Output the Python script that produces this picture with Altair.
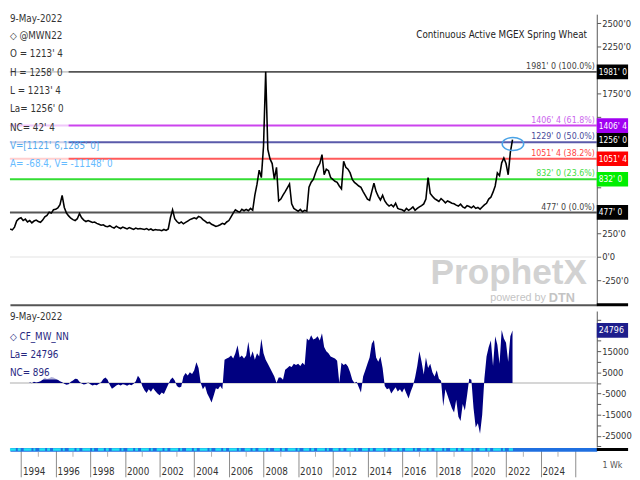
import altair as alt
import pandas as pd

# ---------------- data ----------------
price_start = 1993.375
price_step = 0.125
price_values = [
    300, 290, 320, 385, 410,                      # 1993 (part)
    420, 390, 405, 375, 390, 365, 385, 395,       # 1994
    380, 372, 395, 430, 445, 480, 470, 505,       # 1995
    510, 525, 560, 660, 530, 470, 440, 415,       # 1996
    400, 390, 410, 465, 420, 395, 380, 390,       # 1997
    380, 370, 375, 360, 350, 340, 345, 330,       # 1998
    325, 335, 320, 310, 330, 315, 305, 320,       # 1999
    310, 300, 315, 305, 295, 310, 300, 305,       # 2000
    300, 295, 305, 290, 300, 285, 295, 290,       # 2001
    290, 282, 295, 285, 300, 420, 505, 410,       # 2002
    380, 360, 375, 355, 370, 385, 400, 410,       # 2003
    420, 410, 435, 425, 400, 385, 365, 370,       # 2004
    350, 340, 327, 335, 345, 360, 350, 375,       # 2005
    390, 430, 470, 505, 490, 480, 510, 495,       # 2006
    510, 495, 520, 500, 662, 780, 930, 850,       # 2007
    1185, 1981, 1150, 1050, 1000, 833, 960, 600,  # 2008
    620, 662, 700, 740, 781, 570, 520, 505,       # 2009
    490, 510, 485, 500, 490, 746, 800, 830,       # 2010
    900, 960, 1000, 1095, 880, 940, 924, 850,     # 2011
    830, 810, 800, 760, 730, 1025, 960, 940,      # 2012
    900, 830, 798, 780, 760, 746, 700, 660,       # 2013
    620, 607, 700, 790, 700, 650, 610, 660,       # 2014
    600, 568, 545, 560, 537, 575, 520, 510,       # 2015
    505, 490, 520, 500, 516, 535, 500, 520,       # 2016
    537, 550, 568, 620, 851, 680, 650, 625,       # 2017
    610, 595, 625, 605, 580, 600, 589, 575,       # 2018
    570, 555, 545, 565, 537, 525, 550, 540,       # 2019
    526, 545, 520, 530, 512, 535, 558, 575,       # 2020
    620, 640, 694, 760, 900, 870, 1008, 1060,     # 2021
    1000, 880, 1120, 1256,                        # 2022
]

cot_start = 1994.5
cot_step = 0.125
cot_values = [
    300, -200, 500, 200,                                          # 1994 (part)
    400, 800, 1500, 2500, 1800, 2200, 2800, 2500,                 # 1995
    2000, 1500, 800, 300, -400, -900, -600, 500,                  # 1996
    1200, 2000, 1800, 600, -300, -800, -500, 200,                 # 1997
    -600, -1200, -900, -1100, -400, 300, 1800, 2600,              # 1998
    1500, -1000, -2800, -2000, -1200, -800, -1200, -600,          # 1999
    -900, -1300, -700, -1100, -400, 800, 3400, 2000,              # 2000
    -1500, -3500, -4800, -3000, -4200, -2500, -3800, -5000,       # 2001
    -5800, -4500, -5200, -3000, -800, 1500, 2600, 1200,           # 2002
    -1500, -2200, -1800, 3000, 4700, 3500, 5000, 4200,            # 2003
    6000, 9800, 7000, 0, -3000, -1500, -5000, -7000,              # 2004
    -9300, -6000, -2500, -3000, -1500, -3000, 10900, 11500,       # 2005
    12000, 13000, 11500, 14000, 17800, 12000, 13000, 11500,       # 2006
    13000, 19500, 12000, 15000, 11000, 14000, 12500, 20800,       # 2007
    14000, 11000, 9000, 7000, 5000, 3000, 0, 2500,                # 2008
    2500, 1500, 6200, 7000, 8000, 7500, 9000, 8500,               # 2009
    9000, 8000, 9500, 8500, 21000, 20000, 22500, 20500,           # 2010
    21000, 22000, 20000, 23400, 17000, 15000, 14000, 12500,       # 2011
    12000, 11500, 10500, 0, 9500, 8500, 9000, 7700,               # 2012
    5000, 1500, 0, 500, -2000, -4500, 3000, 6000,                 # 2013
    9000, 12000, 18500, 20300, 12000, 10000, 12500, 7000,         # 2014
    -1500, -3000, -2500, -5000, -3500, -2000, -4000, -3000,       # 2015
    -4500, -2500, -5000, -7400, -4000, -1500, 2500, 8000,         # 2016
    14900, 10000, 4000, 12000, 7000, 9000, 5000, 3000,            # 2017
    6000, 2000, 1000, -11000, -3000, -6000, -9000, -12000,        # 2018
    -14000, -8000, -16000, -18000, -10000, -13000, -6000, 2000,   # 2019
    1500, -12000, -21000, -19000, -24000, -15000, 2000, 12500,    # 2020
    17000, 20000, 8000, 22000, 18000, 9000, 25000, 21000,         # 2021
    19000, 10000, 22000, 24796,                                   # 2022
]

fib_levels = [1981, 1406.5, 1229, 1051.5, 832, 477]
fib_labels = ["1981' 0 (100.0%)", "1406' 4 (61.8%)", "1229' 0 (50.0%)",
              "1051' 4 (38.2%)", "832' 0 (23.6%)", "477' 0 (0.0%)"]
fib_line_colors = ["#555555", "#cc44ee", "#5a5aaa", "#ff5a5a", "#33dd33", "#555555"]
fib_text_colors = ["#444444", "#cc66ee", "#4a4a9a", "#ff4444", "#44dd44", "#444444"]

box_values = [1981, 477, 832, 1051.5, 1256, 1406.5]
box_labels = ["1981' 0", "477' 0", "832' 0", "1051' 4", "1256' 0", "1406' 4"]
box_colors = ["#000000", "#000000", "#00ee00", "#ff0000", "#000000", "#a100f2"]

legend_top = ["9-May-2022", "\u25c7 @MWN22", "O = 1213' 4", "H = 1258' 0", "L = 1213' 4",
              "La= 1256' 0", "NC= 42' 4", "V=[1121' 6,1285' 0]", "A= -68.4, V= -11148' 0"]
legend_top_colors = ["#333333"] * 7 + ["#55aaee", "#66bbff"]

legend_bot = ["9-May-2022", "\u25c7 CF_MW_NN", "La= 24796", "NC= 896"]
legend_bot_colors = ["#333333", "#262680", "#262680", "#262680"]

circle_year = [2022.40]
circle_price = [1210]

last_cot = [24796]
year_ticks = list(range(1994, 2027, 2))
minor_years = list(range(1995, 2027, 2))
data_end_year = 2022.4

# ---------------- layout ----------------
W = 600
H_TOP = 297
H_BOT = 139
XDOM = [1993.362, 2027.24]
YDOM_TOP = [-510, 2598.5]
YDOM_BOT = [-30254, 33950]
FONT = ("Noto Sans ExtraCondensed, Noto Sans Condensed, Liberation Sans Narrow, "
        "DejaVu Sans Condensed, sans-serif")
BOX = "M -1 -0.47 L 1 -0.47 L 1 0.47 L -1 0.47 Z"
ELLIPSE = "M -1 0 A 1 0.6 0 1 0 1 0 A 1 0.6 0 1 0 -1 0 Z"

one = pd.DataFrame({"a": [0]})
xs = alt.Scale(domain=XDOM, nice=False, zero=False)
ys_top = alt.Scale(domain=YDOM_TOP, nice=False, zero=False)
ys_bot = alt.Scale(domain=YDOM_BOT, nice=False, zero=False)

x_axis_top = alt.Axis(labels=False, ticks=False, title=None, grid=False,
                      domainColor="#555555", domainWidth=2)
y_axis_top = alt.Axis(orient="right", values=list(range(-250, 2751, 250)),
                      labelExpr="indexof([500, 750, 1000, 1250, 1500, 2000], datum.value) >= 0 ? '' : datum.value + \"'0\"",
                      tickSize=4, labelPadding=1,
                      title=None, grid=False, domainColor="#555555", tickColor="#555555",
                      labelFont=FONT, labelFontSize=9.5, labelColor="#333333")

x_axis_bot = alt.Axis(values=year_ticks, format="d",
                      labelExpr="datum.value == 2026 ? '' : datum.label",
                      tickSize=28, tickColor="#8a8a8a", labelAlign="left", labelBaseline="top",
                      labelPadding=-10.5, labelOffset=1.5, labelFont=FONT, labelFontSize=10,
                      labelColor="#333333", domainColor="#1f6fe0", domainWidth=4, offset=2.5,
                      title=None, grid=False, labelOverlap=False, labelFlush=False)
y_axis_bot = alt.Axis(orient="right", values=list(range(-30000, 35001, 5000)),
                      labelExpr="(abs(datum.value) % 10000 == 5000 && datum.value < 25000) ? ('' + datum.value) : ''",
                      tickSize=4, labelPadding=1, title=None, grid=False,
                      domainColor="#555555", tickColor="#555555",
                      labelFont=FONT, labelFontSize=9.5, labelColor="#333333")

price_df = pd.DataFrame({"year": [price_start + i * price_step for i in range(len(price_values))],
                         "price": price_values})
fib_df = pd.DataFrame({"level": fib_levels, "label": fib_labels,
                       "lc": fib_line_colors, "tc": fib_text_colors})
box_df = pd.DataFrame({"level": box_values, "lab": box_labels, "bg": box_colors})
circ_df = pd.DataFrame({"year": circle_year, "price": circle_price})

X = lambda f: alt.X(f, scale=xs, axis=x_axis_top)
YT = lambda f: alt.Y(f, scale=ys_top, axis=y_axis_top)

top_layers = []
top_layers.append(alt.Chart(pd.DataFrame({"z": [0]})).mark_rule(color="#ececec", strokeWidth=1.5).encode(
    y=YT("z:Q")))
top_layers.append(alt.Chart(fib_df).mark_rule(strokeWidth=2).encode(
    y=YT("level:Q"), color=alt.Color("lc:N", scale=None)))
top_layers.append(alt.Chart(price_df).mark_line(color="black", strokeWidth=1.6, clip=True).encode(
    x=X("year:Q"), y=YT("price:Q")))
top_layers.append(alt.Chart(one).mark_rect(color="white", opacity=0.7).encode(
    x=alt.value(0), x2=alt.value(60), y=alt.value(0), y2=alt.value(163)))
for i, (t, c) in enumerate(zip(legend_top, legend_top_colors)):
    top_layers.append(alt.Chart(one).mark_text(
        text=t, color=c, align="left", baseline="middle", font=FONT, fontSize=10).encode(
        x=alt.value(0), y=alt.value(max(5, 3.7 + 18.75 * i))))
top_layers.append(alt.Chart(fib_df).mark_text(
    align="right", baseline="bottom", dy=-1, font=FONT, fontSize=9).encode(
    x=alt.value(598), y=YT("level:Q"), text="label:N", color=alt.Color("tc:N", scale=None)))
top_layers.append(alt.Chart(circ_df).mark_point(
    shape=ELLIPSE, size=484, filled=False, strokeWidth=1.5, color="#4aa3e6", opacity=1).encode(
    x=X("year:Q"), y=YT("price:Q")))
top_layers.append(alt.Chart(one).mark_text(
    text="Continuous Active MGEX Spring Wheat", align="right", baseline="middle",
    font=FONT, fontSize=10, color="#222222").encode(x=alt.value(590), y=alt.value(21)))
top_layers.append(alt.Chart(one).mark_text(
    text="ProphetX", align="right", baseline="alphabetic", font="Liberation Sans",
    fontSize=36, fontWeight="bold", color="#d2d2d2").encode(x=alt.value(590), y=alt.value(276)))
top_layers.append(alt.Chart(one).mark_text(
    text="powered by", align="right", baseline="middle", font="Liberation Sans",
    fontSize=11, color="#c4c4c4").encode(x=alt.value(548), y=alt.value(290)))
top_layers.append(alt.Chart(one).mark_text(
    text="DTN", align="left", baseline="middle", font="Liberation Sans",
    fontSize=13, fontWeight="bold", color="#c4c4c4").encode(x=alt.value(551), y=alt.value(290)))
top_layers.append(alt.Chart(box_df).mark_point(
    shape=BOX, size=1024, filled=True, opacity=1, strokeWidth=0).encode(
    x=alt.value(616), y=YT("level:Q"), color=alt.Color("bg:N", scale=None)))
top_layers.append(alt.Chart(box_df).mark_text(
    align="left", baseline="middle", font=FONT, fontSize=8.5, color="white").encode(
    x=alt.value(602), y=YT("level:Q"), text="lab:N"))
top_layers.append(alt.Chart(one).mark_rule(color="black", strokeWidth=3).encode(
    x=alt.value(600), x2=alt.value(632), y=alt.value(H_TOP)))

top = alt.layer(*top_layers).properties(width=W, height=H_TOP)

# ---------------- bottom panel ----------------
cot_df = pd.DataFrame({"year": [cot_start + i * cot_step for i in range(len(cot_values))],
                       "net": cot_values})
XB = lambda f: alt.X(f, scale=xs, axis=x_axis_bot)
YB = lambda f: alt.Y(f, scale=ys_bot, axis=y_axis_bot)

bot_layers = []
bot_layers.append(alt.Chart(pd.DataFrame({"z": [0]})).mark_rule(color="#c8c8c8", strokeWidth=1.5).encode(
    y=YB("z:Q")))
bot_layers.append(alt.Chart(cot_df).mark_area(color="#000080", interpolate="linear", clip=True).encode(
    x=XB("year:Q"), y=YB("net:Q"), y2=alt.datum(0)))
bot_layers.append(alt.Chart(one).mark_rect(color="white", opacity=0.7).encode(
    x=alt.value(0), x2=alt.value(50), y=alt.value(0), y2=alt.value(70)))
bot_y = [6, 27, 45, 63]
for t, c, yy in zip(legend_bot, legend_bot_colors, bot_y):
    bot_layers.append(alt.Chart(one).mark_text(
        text=t, color=c, align="left", baseline="middle", font=FONT, fontSize=10).encode(
        x=alt.value(0), y=alt.value(yy)))
bot_layers.append(alt.Chart(pd.DataFrame({"v": last_cot})).mark_point(
    shape=BOX, size=1024, filled=True, opacity=1, strokeWidth=0, color="#1e1e8c").encode(
    x=alt.value(616), y=YB("v:Q")))
bot_layers.append(alt.Chart(pd.DataFrame({"v": last_cot})).mark_text(
    align="left", baseline="middle", font=FONT, fontSize=9, color="white").encode(
    x=alt.value(602), y=YB("v:Q"), text=alt.Text("v:Q", format="d")))
bot_layers.append(alt.Chart(pd.DataFrame({"x0": [XDOM[0]], "x1": [data_end_year]})).mark_rule(
    color="#22e4f2", strokeWidth=2.5, strokeDash=[6, 2, 3, 3, 8, 2, 2, 4]).encode(
    x=XB("x0:Q"), x2="x1:Q", y=alt.value(H_BOT + 2.5)))
bot_layers.append(alt.Chart(pd.DataFrame({"yr": minor_years})).mark_rule(color="#b0b0b0").encode(
    x=XB("yr:Q"), y=alt.value(H_BOT + 5), y2=alt.value(H_BOT + 10)))
bot_layers.append(alt.Chart(one).mark_rule(color="black", strokeWidth=3).encode(
    x=alt.value(600), x2=alt.value(632), y=alt.value(H_BOT + 2.5)))
bot_layers.append(alt.Chart(one).mark_text(
    text="1 Wk", align="center", baseline="middle", font=FONT, fontSize=9, color="#555555").encode(
    x=alt.value(616), y=alt.value(H_BOT + 18.5)))

bottom = alt.layer(*bot_layers).properties(width=W, height=H_BOT)

chart = alt.vconcat(top, bottom, spacing=3.5).properties(padding=0).configure_view(stroke="transparent")

chart.save("out.html", embed_options={"renderer": "svg", "actions": False})
